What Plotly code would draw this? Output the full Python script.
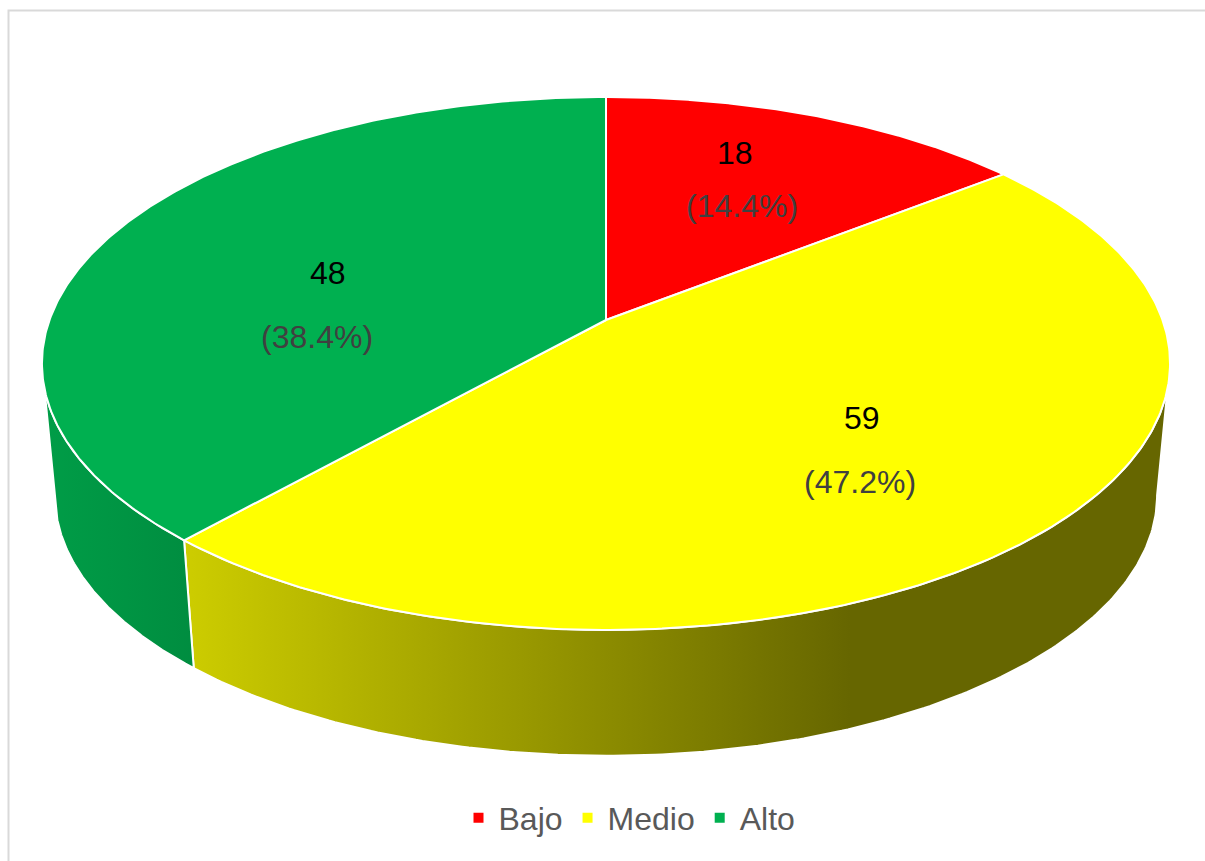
import numpy as np
import plotly.graph_objects as go

# ---- data ----
categories = ["Bajo", "Medio", "Alto"]
values = [18, 59, 48]
colors = [(255, 0, 0), (255, 255, 0), (0, 176, 80)]

# ---- styling / geometry (pixel space) ----
W, H = 1205, 861
CX, CY = 606, 320          # projected pie centre (top face)
A, B, K = 556.5, 259.4, 0.163
S_BOT, CY_BOT = 0.977, 453  # bottom face
label_pos = [((735, 153), (742, 206)), ((862, 418), (860, 482)), ((328, 273), (317, 337))]
FONT = "Liberation Sans, Arial, sans-serif"


def proj(theta, scale=1.0, cy=CY):
    u = np.sin(theta)
    v = np.cos(theta)
    d = 1 + K * v
    return CX + scale * A * u / d, cy - scale * B * v / d


def rgb(c, f=1.0):
    return "rgb(%d,%d,%d)" % tuple(int(round(x * f)) for x in c)


total = sum(values)
fr = np.array(values) / total
cum = np.concatenate([[0], np.cumsum(fr)]) * 2 * np.pi

vis_lo = np.arccos(-K)
vis_hi = 2 * np.pi - vis_lo

fig = go.Figure()

# side faces
for i, cat in enumerate(categories):
    t0, t1 = max(cum[i], vis_lo), min(cum[i + 1], vis_hi)
    if t1 <= t0:
        continue
    th = np.linspace(t0, t1, 200)
    xt, yt = proj(th)
    xb, yb = proj(th[::-1], S_BOT, CY_BOT)
    xs = np.concatenate([xt, xb, xt[:1]])
    ys = np.concatenate([yt, yb, yt[:1]])
    fig.add_trace(go.Scatter(
        x=xs, y=ys, mode="lines", fill="toself",
        line=dict(color="white", width=2),
        fillgradient=dict(type="horizontal", start=43, stop=850,
                          colorscale=[[0, rgb(colors[i], 0.89)], [1, rgb(colors[i], 0.40)]]),
        showlegend=False, hoverinfo="skip"))

# top faces
for i, cat in enumerate(categories):
    th = np.linspace(cum[i], cum[i + 1], 300)
    xt, yt = proj(th)
    xs = np.concatenate([[CX], xt, [CX]])
    ys = np.concatenate([[CY], yt, [CY]])
    fig.add_trace(go.Scatter(
        x=xs, y=ys, mode="lines", fill="toself",
        line=dict(color="white", width=2),
        fillcolor=rgb(colors[i]), showlegend=False, hoverinfo="skip"))

# legend entries
for i, cat in enumerate(categories):
    fig.add_trace(go.Scatter(
        x=[None], y=[None], mode="markers", name=cat,
        marker=dict(symbol="square", size=10, color=rgb(colors[i]))))

# labels
for i, cat in enumerate(categories):
    (vx, vy), (px, py) = label_pos[i]
    fig.add_annotation(x=vx, y=vy, text=str(values[i]), showarrow=False,
                       font=dict(family=FONT, size=32, color="black"))
    fig.add_annotation(x=px, y=py, text="(%.1f%%)" % (100 * fr[i]), showarrow=False,
                       font=dict(family=FONT, size=32, color="#404040"))

# chart border
fig.add_shape(type="rect", x0=8.5, y0=10.5, x1=1230, y1=900,
              line=dict(color="#d9d9d9", width=2), layer="below")

fig.update_layout(
    width=W, height=H,
    margin=dict(l=0, r=0, t=0, b=0),
    paper_bgcolor="white", plot_bgcolor="white",
    xaxis=dict(range=[0, W], visible=False, fixedrange=True),
    yaxis=dict(range=[H, 0], visible=False, fixedrange=True),
    legend=dict(orientation="h", x=0.5 + 27 / W, xanchor="center", y=(H - 818) / H, yanchor="middle",
                font=dict(family=FONT, size=32, color="#595959"),
                bgcolor="rgba(0,0,0,0)"),
)

fig.write_html("out.html", config={"displayModeBar": False},
               post_script="document.body.style.margin='0px';document.body.style.overflow='hidden';")
